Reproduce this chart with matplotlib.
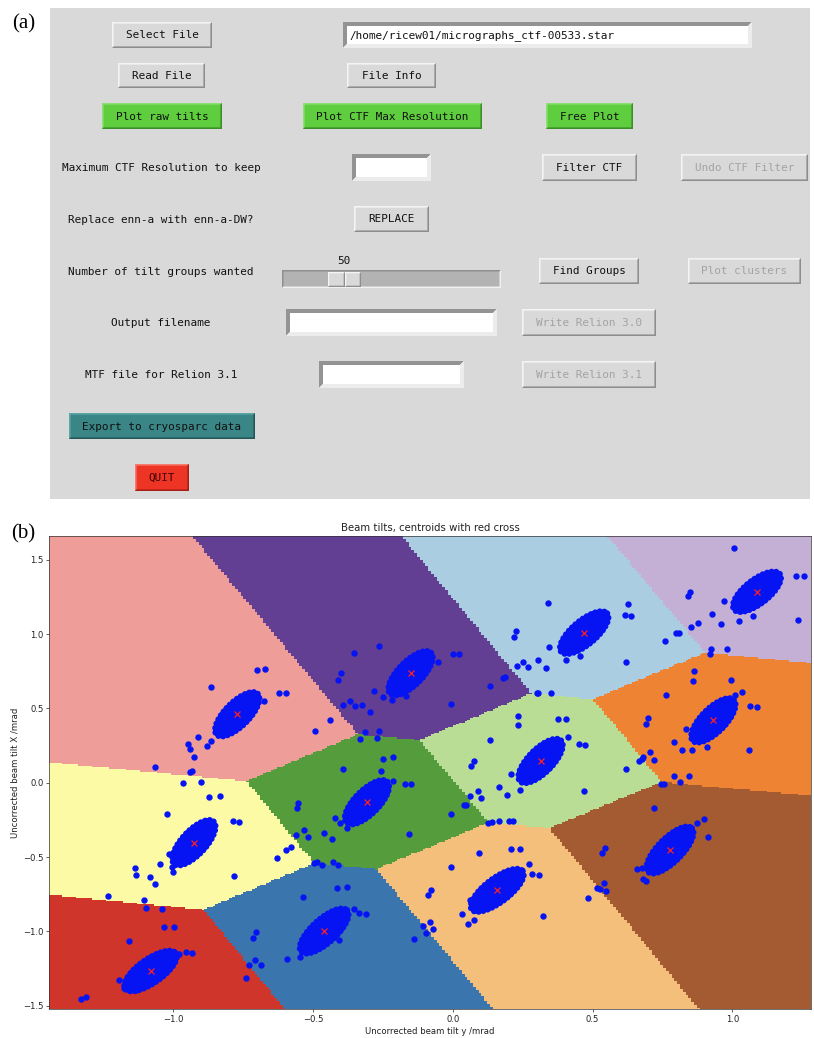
import numpy as np
import matplotlib
matplotlib.use("Agg")
import matplotlib.pyplot as plt
from matplotlib.patches import Rectangle, Polygon
from matplotlib.colors import ListedColormap

# ---------------- data: panel (b) ----------------
# centroids: x-axis = beam tilt y, y-axis = beam tilt X (mrad)
centroid_tilt_y = [-1.081, -0.460, 0.159, 0.777, -0.926, -0.307, 0.314, 0.932, -0.771, -0.151, 0.470, 1.088]
centroid_tilt_x = [-1.266, -0.997, -0.723, -0.452, -0.403, -0.131, 0.147, 0.420, 0.461, 0.737, 1.010, 1.285]
# index into the (Paired-like) region palette for each cluster
region_color_index = [5, 1, 6, 11, 10, 3, 2, 7, 4, 9, 0, 8]
region_palette = ["#abcde1", "#3a76ad", "#badd95", "#559c3d", "#ee9d98", "#d0352c",
                  "#f3bf7b", "#ee8433", "#c4b0d4", "#623f92", "#fdfaa5", "#a45b32"]
# dense core of each cluster: half-axis vectors (data units)
core_major_y = [0.0908, 0.0824, 0.0914, 0.0784, 0.0707, 0.0733, 0.0733, 0.0733, 0.0733, 0.0733, 0.0822, 0.0817]
core_major_x = [0.1197, 0.1395, 0.1295, 0.1474, 0.1426, 0.1379, 0.1379, 0.1379, 0.1379, 0.1379, 0.1297, 0.1201]
core_minor_y = [0.0246, 0.0287, 0.0258, 0.0303, 0.0314, 0.0303, 0.0303, 0.0303, 0.0303, 0.0303, 0.0276, 0.0264]
core_minor_x = [-0.0661, -0.060, -0.0645, -0.0571, -0.055, -0.0571, -0.0571, -0.0571, -0.0571, -0.0571, -0.0618, -0.0636]

# scattered (outlying) beam-tilt points
outliers = [
    # pink region
    (-0.865, 0.646), (-0.702, 0.756), (-0.672, 0.765), (-0.620, 0.606), (-0.598, 0.606), (-0.674, 0.548),
    (-0.910, 0.310), (-0.948, 0.261), (-0.940, 0.225), (-0.925, 0.176), (-0.880, 0.250), (-0.866, 0.283),
    (-0.493, 0.351), (-0.439, 0.420),
    # purple region
    (-0.263, 0.922), (-0.354, 0.875), (-0.399, 0.736), (-0.410, 0.691), (-0.392, 0.525), (-0.369, 0.548),
    (-0.349, 0.517), (-0.325, 0.526), (-0.296, 0.474), (-0.283, 0.617), (-0.315, 0.344), (-0.263, 0.348),
    (-0.333, 0.297), (-0.271, 0.304), (-0.249, 0.579), (-0.218, 0.557), (-0.166, 0.586), (0.000, 0.868),
    (0.021, 0.868), (-0.053, 0.815), (0.133, 0.653), (0.178, 0.707), (0.187, 0.714), (-0.006, 0.528),
    (0.300, 0.606), (0.306, 0.606), (0.353, 0.602),
    # light blue region
    (0.339, 1.207), (0.227, 1.019), (0.218, 0.983), (0.343, 0.916), (0.304, 0.828), (0.251, 0.815),
    (0.228, 0.788), (0.268, 0.781), (0.332, 0.774), (0.404, 0.824), (0.455, 0.853), (0.628, 1.202),
    (0.615, 1.128), (0.636, 1.124), (0.619, 0.815), (0.760, 0.951), (0.800, 1.005), (0.808, 1.010),
    # lavender region
    (0.841, 1.258), (0.850, 1.285), (0.852, 1.050), (0.876, 1.077), (0.928, 1.133), (0.958, 1.070),
    (0.970, 1.225), (1.007, 1.581), (1.229, 1.389), (1.256, 1.389), (1.233, 1.097), (1.022, 1.088),
    (1.073, 1.119), (0.924, 0.902), (0.921, 0.866), (0.981, 0.898),
    # orange region
    (0.863, 0.750), (0.858, 0.682), (0.994, 0.689), (1.033, 0.613), (1.009, 0.590), (1.064, 0.519),
    (1.088, 0.512), (0.761, 0.590), (0.697, 0.434), (0.690, 0.395), (0.792, 0.277), (0.820, 0.218),
    (0.857, 0.218), (0.910, 0.243), (1.059, 0.218), (0.707, 0.207), (0.679, 0.176), (0.834, 0.360),
    (0.860, 0.333), (0.791, 0.043), (0.844, 0.043), (0.813, 0.003),
    # light green region
    (0.235, 0.449), (0.235, 0.386), (0.376, 0.429), (0.404, 0.429), (0.133, 0.288), (0.411, 0.310),
    (0.452, 0.259), (0.474, 0.254), (0.076, 0.149), (0.064, 0.113), (0.208, 0.061), (0.166, -0.028),
    (0.089, -0.053), (0.101, -0.100), (0.061, -0.087), (0.039, -0.152), (0.046, -0.147), (-0.008, -0.208),
    (0.194, -0.080), (0.240, -0.051), (0.469, -0.053), (0.127, -0.273), (0.140, -0.264), (0.164, -0.255),
    (0.200, -0.255), (0.216, -0.255), (0.620, 0.091), (0.666, 0.147), (0.678, 0.160), (0.718, 0.156),
    (0.746, -0.010), (0.755, -0.010),
    # green region
    (-0.394, 0.091), (-0.249, 0.162), (-0.215, 0.176), (-0.257, 0.082), (-0.214, 0.010), (-0.170, -0.005),
    (-0.148, -0.005), (-0.555, -0.134), (-0.558, -0.168), (-0.420, -0.237), (-0.532, -0.317), (-0.561, -0.351),
    (-0.519, -0.367), (-0.460, -0.335), (-0.431, -0.380), (-0.157, -0.341), (-0.380, -0.302), (-0.404, -0.273),
    (-0.487, -0.530), (-0.467, -0.553), (-0.427, -0.535), (-0.409, -0.553), (-0.498, -0.541),
    # yellow region
    (-1.065, 0.108), (-0.934, 0.079), (-0.940, 0.075), (-0.964, 0.001), (-0.901, 0.008), (-0.871, -0.098),
    (-0.833, -0.089), (-1.023, -0.208), (-0.785, -0.257), (-0.765, -0.261), (-1.014, -0.479), (-1.047, -0.546),
    (-1.135, -0.573), (-1.133, -0.622), (-1.084, -0.631), (-1.065, -0.683), (-0.781, -0.625), (-1.004, -0.564),
    (-0.999, -0.598), (-0.630, -0.506), (-0.597, -0.452), (-0.579, -0.434), (-1.232, -0.764), (-1.106, -0.790),
    (-1.099, -0.844), (-1.041, -0.851),
    # blue region
    (-0.413, -0.705), (-0.378, -0.701), (-0.537, -0.768), (-0.352, -0.851), (-0.334, -0.873), (-0.312, -0.885),
    (-0.140, -1.052), (-0.704, -1.003), (-0.713, -1.041), (-0.707, -1.192), (-0.730, -1.223), (-0.686, -1.228),
    (-0.738, -1.311), (-0.594, -1.185), (-0.547, -1.174), (-0.408, -1.057),
    # red region
    (-1.032, -0.972), (-0.998, -0.967), (-1.159, -1.064), (-0.979, -1.154), (-0.955, -1.138), (-0.933, -1.142),
    (-1.329, -1.452), (-1.312, -1.438), (-1.194, -1.326), (-1.176, -1.382), (-1.133, -1.393),
    # light orange region
    (0.094, -0.470), (0.209, -0.445), (0.239, -0.445), (-0.005, -0.569), (0.274, -0.548), (0.284, -0.616),
    (0.307, -0.620), (0.324, -0.898), (-0.078, -0.719), (-0.090, -0.757), (0.032, -0.885), (0.056, -0.947),
    (0.076, -0.923), (-0.080, -0.934), (-0.105, -0.963), (-0.096, -1.008), (-0.070, -0.981), (0.060, -0.790),
    (0.068, -0.826), (0.482, -0.772),
    # brown region
    (0.720, -0.172), (0.900, -0.243), (0.872, -0.268), (0.912, -0.367), (0.533, -0.474), (0.545, -0.436),
    (0.541, -0.672), (0.515, -0.705), (0.527, -0.716), (0.548, -0.728), (0.660, -0.577), (0.678, -0.571),
    (0.680, -0.649), (0.690, -0.663),
]
outlier_tilt_y = [p[0] for p in outliers]
outlier_tilt_x = [p[1] for p in outliers]

x_ticks = [-1.0, -0.5, 0.0, 0.5, 1.0]
y_ticks = [-1.5, -1.0, -0.5, 0.0, 0.5, 1.0, 1.5]
x_limits = (-1.443, 1.280)
y_limits = (-1.523, 1.662)
title_text = "Beam tilts, centroids with red cross"
x_label = "Uncorrected beam tilt y /mrad"
y_label = "Uncorrected beam tilt X /mrad"

# ---------------- panel (a): GUI widgets (pixel layout) ----------------
path_text = "/home/ricew01/micrographs_ctf-00533.star"
buttons = [  # text, x0, y0, x1, y1, style
    ("Select File", 112, 22, 212, 48, "normal"),
    ("Read File", 118, 63, 205, 88, "normal"),
    ("File Info", 347, 63, 436, 88, "normal"),
    ("Plot raw tilts", 102, 103, 222, 129, "green"),
    ("Plot CTF Max Resolution", 303, 103, 482, 129, "green"),
    ("Free Plot", 546, 103, 633, 129, "green"),
    ("Filter CTF", 542, 154, 637, 181, "normal"),
    ("Undo CTF Filter", 681, 154, 808, 181, "disabled"),
    ("REPLACE", 354, 206, 429, 232, "normal"),
    ("Find Groups", 539, 258, 639, 284, "normal"),
    ("Plot clusters", 688, 258, 801, 284, "disabled"),
    ("Write Relion 3.0", 522, 309, 656, 336, "disabled"),
    ("Write Relion 3.1", 522, 361, 656, 388, "disabled"),
    ("Export to cryosparc data", 69, 413, 255, 439, "teal"),
    ("QUIT", 135, 464, 189, 491, "red"),
]
entries = [  # x0, y0, x1, y1, text
    (343, 22, 752, 48, path_text),
    (352, 154, 431, 181, ""),
    (286, 309, 497, 336, ""),
    (319, 361, 464, 388, ""),
]
labels = [  # text, y centre
    ("Maximum CTF Resolution to keep", 168),
    ("Replace enn-a with enn-a-DW?", 220),
    ("Number of tilt groups wanted", 272),
    ("Output filename", 323),
    ("MTF file for Relion 3.1", 375),
]
slider_value = 50

styles = {
    "normal": ("#d9d9d9", "#f4f4f4", "#8e8e8e", "#111111"),
    "disabled": ("#d9d9d9", "#f4f4f4", "#8e8e8e", "#a3a3a3"),
    "green": ("#5ecd3e", "#8ee074", "#3c8e28", "#111111"),
    "teal": ("#3a8585", "#5ea6a6", "#245858", "#111111"),
    "red": ("#ee3424", "#f67a6e", "#a51f14", "#3a0000"),
}

mono = "DejaVu Sans Mono"
fig = plt.figure(figsize=(8.14, 10.38), dpi=100)
bg = fig.add_axes([0, 0, 1, 1])
bg.set_xlim(0, 814)
bg.set_ylim(1038, 0)
bg.axis("off")

bg.add_patch(Rectangle((50, 8), 760, 491, facecolor="#d9d9d9", edgecolor="none"))


def bevel(x0, y0, x1, y1, bw, tl, br):
    bg.add_patch(Polygon([(x0, y1), (x0, y0), (x1, y0), (x1 - bw, y0 + bw), (x0 + bw, y0 + bw), (x0 + bw, y1 - bw)],
                         closed=True, fc=tl, ec="none"))
    bg.add_patch(Polygon([(x1, y0), (x1, y1), (x0, y1), (x0 + bw, y1 - bw), (x1 - bw, y1 - bw), (x1 - bw, y0 + bw)],
                         closed=True, fc=br, ec="none"))


for text, x0, y0, x1, y1, st in buttons:
    fill, light, dark, tc = styles[st]
    bg.add_patch(Rectangle((x0, y0), x1 - x0, y1 - y0, fc=fill, ec="none"))
    bevel(x0, y0, x1, y1, 1.6, light, dark)
    bg.text((x0 + x1) / 2, (y0 + y1) / 2 + 0.5, text, ha="center", va="center",
            fontsize=7.9, family=mono, color=tc)

for x0, y0, x1, y1, text in entries:
    bg.add_patch(Rectangle((x0, y0), x1 - x0, y1 - y0, fc="white", ec="none"))
    bevel(x0, y0, x1, y1, 4, "#939393", "#ececec")
    if text:
        bg.text(x0 + 6, (y0 + y1) / 2 + 0.5, text, ha="left", va="center",
                fontsize=7.9, family=mono, color="#111111")

for text, yc in labels:
    bg.text(161, yc, text, ha="center", va="center", fontsize=7.9, family=mono, color="#111111")

# slider
bg.add_patch(Rectangle((282, 270), 219, 18, fc="#b3b3b3", ec="none"))
bevel(282, 270, 501, 288, 1.5, "#8e8e8e", "#f0f0f0")
bg.add_patch(Rectangle((328, 272), 33, 15, fc="#d9d9d9", ec="none"))
bevel(328, 272, 345, 287, 1.3, "#f4f4f4", "#8e8e8e")
bevel(345, 272, 361, 287, 1.3, "#f4f4f4", "#8e8e8e")
bg.text(344, 261, str(slider_value), ha="center", va="center", fontsize=7.9, family=mono, color="#111111")

bg.text(12, 24, "(a)", ha="left", va="center", fontsize=15, family="Liberation Serif")
bg.text(11, 534, "(b)", ha="left", va="center", fontsize=15, family="Liberation Serif")

# ---------------- panel (b): clustered beam tilts ----------------
ax = fig.add_axes([0.0606, 0.0277, 0.9353, 0.4562])
cx = np.array(centroid_tilt_y)
cy = np.array(centroid_tilt_x)
h = 0.01
gx = np.arange(x_limits[0], x_limits[1] + h, h)
gy = np.arange(y_limits[0], y_limits[1] + h, h)
XX, YY = np.meshgrid(gx, gy)
dist = (XX[..., None] - cx) ** 2 + (YY[..., None] - cy) ** 2
Z = np.array(region_color_index)[np.argmin(dist, axis=-1)]
cmap = ListedColormap(region_palette)
ax.imshow(Z, cmap=cmap, vmin=-0.5, vmax=11.5, origin="lower", aspect="auto", interpolation="nearest",
          extent=(gx[0] - h / 2, gx[-1] + h / 2, gy[0] - h / 2, gy[-1] + h / 2))

dot_blue = "#0614f4"
t = np.linspace(0, 2 * np.pi, 80)
for i in range(len(cx)):
    px = cx[i] + np.cos(t) * core_major_y[i] + np.sin(t) * core_minor_y[i]
    py = cy[i] + np.cos(t) * core_major_x[i] + np.sin(t) * core_minor_x[i]
    ax.add_patch(Polygon(np.column_stack([px, py]), closed=True, fc=dot_blue, ec=dot_blue, lw=1.5))
    # beaded rim so the dense core looks like overlapping dots
    ax.plot(px, py, color=dot_blue, lw=4.4, ls=(0, (0.01, 0.75)), dash_capstyle="round")

ax.plot(outlier_tilt_y, outlier_tilt_x, "o", color=dot_blue, ms=4.6, mew=0)
ax.plot(cx, cy, "x", color="#ff2020", ms=4, mew=0.9)

ax.set_xlim(*x_limits)
ax.set_ylim(*y_limits)
ax.set_xticks(x_ticks)
ax.set_yticks(y_ticks)
ax.tick_params(labelsize=6.1, length=2.1, width=0.5, pad=2.1, colors="#222222")
for s in ax.spines.values():
    s.set_linewidth(0.5)
    s.set_color("#333333")
ax.set_xlabel(x_label, fontsize=6.1, labelpad=2.4, color="#222222")
ax.set_ylabel(y_label, fontsize=6.1, labelpad=2.4, color="#222222")
ax.set_title(title_text, fontsize=7.3, pad=3.7, color="#222222")

fig.savefig("out.png", dpi=100)
